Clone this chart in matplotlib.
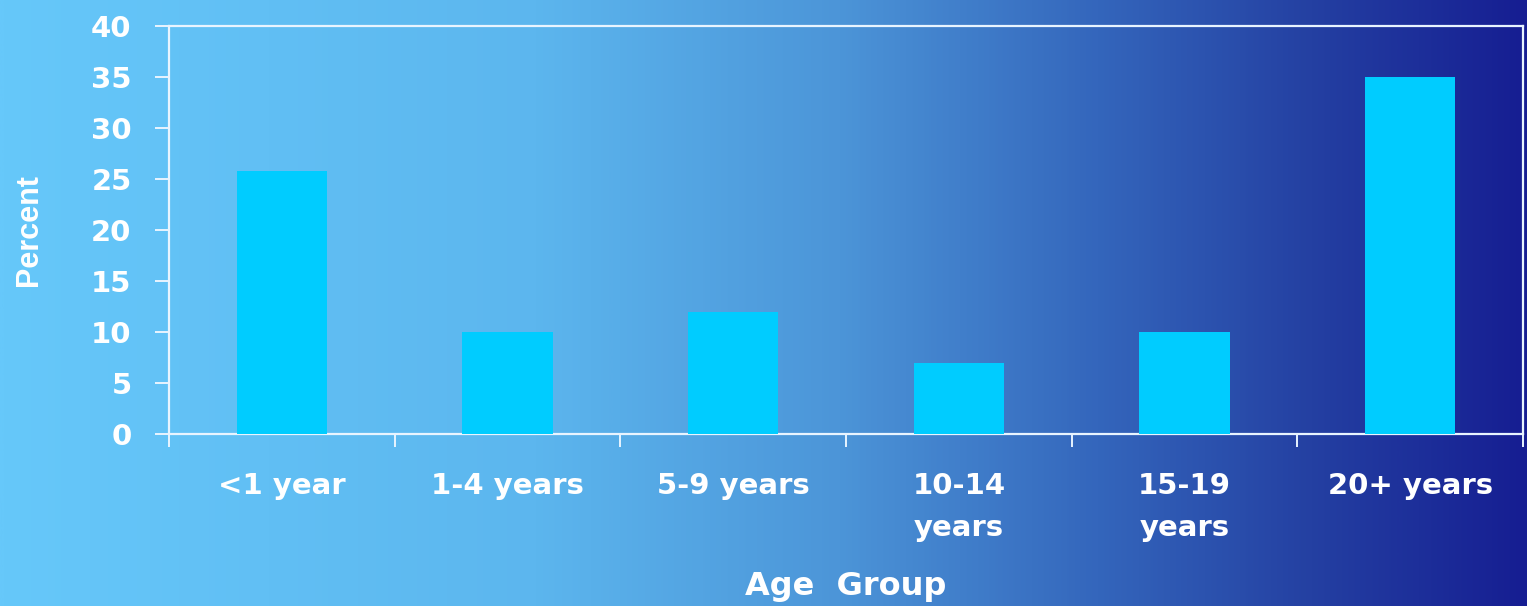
import matplotlib
matplotlib.use("Agg")
import matplotlib.pyplot as plt
import numpy as np
from matplotlib.colors import LinearSegmentedColormap

categories = ["<1 year", "1-4 years", "5-9 years", "10-14\nyears", "15-19\nyears", "20+ years"]
values = [25.8, 10, 12, 7, 10, 35]
yticks = [0, 5, 10, 15, 20, 25, 30, 35, 40]

plt.rcParams['font.family'] = ['DejaVu Sans']
plt.rcParams['font.weight'] = 'bold'

fig = plt.figure(figsize=(15.27, 6.06), dpi=100)

# gradient background
bg = fig.add_axes([0, 0, 1, 1], zorder=-10)
cmap = LinearSegmentedColormap.from_list("bg", [
    (0.0, "#66C8FA"),
    (0.35, "#5CB6EE"),
    (0.55, "#4C95D8"),
    (0.72, "#3466BC"),
    (0.86, "#2440A2"),
    (1.0, "#161E92"),
])
grad = np.linspace(0, 1, 512).reshape(1, -1)
bg.imshow(grad, aspect='auto', cmap=cmap, extent=[0, 1, 0, 1])
bg.set_axis_off()

ax = fig.add_axes([169/1527, 1-434/606, (1523-169)/1527, (434-26)/606])
ax.patch.set_alpha(0)
x = np.arange(len(categories))
ax.bar(x, values, width=0.4, color="#00CCFF", zorder=3)
ax.set_xlim(-0.5, len(categories)-0.5)
ax.set_ylim(0, 40)

for s in ax.spines.values():
    s.set_color("#E8F4FF")
    s.set_linewidth(1.6)

ax.set_yticks(yticks)
ax.set_yticklabels([str(t) for t in yticks])
ax.tick_params(axis='y', direction='out', length=10, width=1.4, color="#E8F4FF",
               labelcolor="white", labelsize=21, pad=17)
ax.set_xticks(x)
ax.set_xticklabels(categories)
ax.tick_params(axis='x', which='major', length=0, labelcolor="white", labelsize=21, pad=27)
ax.set_xticks(np.arange(-0.5, len(categories)), minor=True)
ax.tick_params(axis='x', which='minor', direction='out', length=9, width=1.4, color="#E8F4FF")
for lbl in ax.get_xticklabels():
    lbl.set_linespacing(1.65)
    lbl.set_verticalalignment('top')

ax.set_xlabel("Age  Group", color="white", fontsize=23, fontweight='bold', labelpad=21)
ax.set_ylabel("Percent", color="white", fontsize=22, fontweight='bold', labelpad=34,
              family='Liberation Sans')

fig.savefig("out.png", dpi=100)
